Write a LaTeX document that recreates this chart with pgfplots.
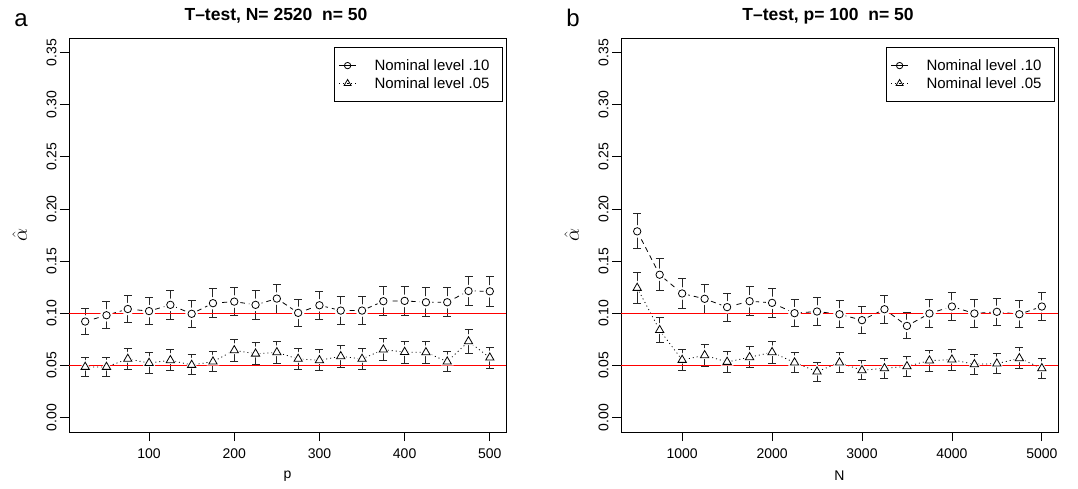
\documentclass[border=0pt]{standalone}
\usepackage{fontspec}
\setmainfont{Liberation Sans}
\usepackage{pgfplots}
\pgfplotsset{compat=1.18}
\usepackage{pgfplotstable}

\pgfplotstableread{
p c ce t te
25 0.0920 0.0127 0.0484 0.0094
50 0.0980 0.0130 0.0484 0.0094
75 0.1040 0.0134 0.0561 0.0101
100 0.1020 0.0133 0.0522 0.0098
125 0.1080 0.0136 0.0548 0.0100
150 0.0994 0.0131 0.0503 0.0096
175 0.1096 0.0137 0.0535 0.0099
200 0.1111 0.0138 0.0643 0.0108
225 0.1080 0.0136 0.0611 0.0105
250 0.1140 0.0139 0.0624 0.0106
275 0.1003 0.0132 0.0561 0.0101
300 0.1076 0.0136 0.0548 0.0100
325 0.1025 0.0133 0.0586 0.0103
350 0.1025 0.0133 0.0561 0.0101
375 0.1115 0.0138 0.0650 0.0108
400 0.1118 0.0138 0.0627 0.0106
425 0.1105 0.0137 0.0624 0.0106
450 0.1105 0.0137 0.0535 0.0099
475 0.1213 0.0143 0.0729 0.0114
500 0.1210 0.0143 0.0573 0.0102
}\dataA

\pgfplotstableread{
N c ce t te
500 0.1785 0.0168 0.1242 0.0145
750 0.1369 0.0151 0.0837 0.0121
1000 0.1189 0.0142 0.0551 0.0100
1250 0.1138 0.0139 0.0596 0.0104
1500 0.1058 0.0135 0.0532 0.0098
1750 0.1115 0.0138 0.0577 0.0102
2000 0.1099 0.0137 0.0625 0.0106
2250 0.1000 0.0131 0.0526 0.0098
2500 0.1016 0.0132 0.0439 0.0090
2750 0.0990 0.0131 0.0526 0.0098
3000 0.0933 0.0127 0.0452 0.0091
3250 0.1038 0.0134 0.0471 0.0093
3500 0.0878 0.0124 0.0490 0.0095
3750 0.0997 0.0131 0.0545 0.0100
4000 0.1064 0.0135 0.0554 0.0100
4250 0.0997 0.0131 0.0510 0.0096
4500 0.1013 0.0132 0.0516 0.0097
4750 0.0990 0.0131 0.0567 0.0102
5000 0.1064 0.0135 0.0471 0.0093
}\dataB

\pgfplotsset{
  rstyle/.style={
    width=437pt, height=394pt, scale only axis,
    axis line style={line width=0.9pt},
    tick align=outside, tick pos=left, major tick length=9pt,
    every tick/.style={black, line width=0.8pt},
    ymin=-0.014, ymax=0.364,
    ytick={0,0.05,0.1,0.15,0.2,0.25,0.3,0.35},
    ticklabel style={font=\fontsize{14}{16}\selectfont},
    yticklabel style={rotate=90, anchor=south, /pgf/number format/fixed, /pgf/number format/fixed zerofill, /pgf/number format/precision=2},
    xticklabel style={yshift=-4pt},
    /pgf/number format/assume math mode=true,
    /pgf/number format/1000 sep={},
    xlabel style={font=\fontsize{14}{16}\selectfont, at={(axis description cs:0.5,-0.112)}, anchor=center},
    ylabel style={font=\fontsize{22}{24}\selectfont, at={(axis description cs:-0.113,0.5)}, anchor=center},
    ylabel={$\hat{\alpha}$},
    title style={at={(axis description cs:0.5,1)}, anchor=base, yshift=12pt, xshift=-11.5pt, font=\bfseries\fontsize{17.5}{20}\selectfont},
    legend style={at={(0.993,0.977)}, anchor=north east, draw=black, line width=0.7pt,
      inner xsep=4pt, inner ysep=10pt, row sep=1.5pt,
      font=\fontsize{15}{17}\selectfont, nodes={inner sep=2pt},
      /tikz/every odd column/.append style={column sep=16pt}},
    legend cell align=left,
  },
  cline/.style={black, line width=0.8pt, dash pattern=on 5pt off 4pt, forget plot},
  tline/.style={black, line width=0.8pt, dash pattern=on 1pt off 3pt, forget plot},
  ebar/.style={draw=none, mark=none, forget plot, error bars/.cd, y dir=both, y explicit,
    error bar style={draw=black!85, line width=1pt, solid},
    error mark options={rotate=90, mark size=4pt, draw=black!85, line width=1pt, solid}},
  chalo/.style={only marks, mark=*, mark size=6pt, white, forget plot},
  thalo/.style={only marks, mark=triangle*, mark size=7pt, white, forget plot},
  cmark/.style={only marks, mark=o, mark size=3.7pt, black, line width=0.8pt, forget plot},
  tmark/.style={only marks, mark=triangle, mark size=4.8pt, black, line width=0.8pt, forget plot},
  refl/.style={red, line width=0.8pt, forget plot},
}

\begin{document}
\begin{tikzpicture}
\useasboundingbox (0,0) rectangle (1078pt,-488pt);

\begin{axis}[rstyle, at={(69pt,-38pt)}, anchor=north west,
  xmin=6, xmax=519, xtick={100,200,300,400,500},
  xlabel={p}, title={T–test, N= 2520~ n= 50}]
\addplot[cline] table[x=p,y=c]{\dataA};
\addplot[tline] table[x=p,y=t]{\dataA};
\addplot[ebar] table[x=p,y=c,y error=ce]{\dataA};
\addplot[ebar] table[x=p,y=t,y error=te]{\dataA};
\addplot[chalo] table[x=p,y=c]{\dataA};
\addplot[thalo] table[x=p,y=t]{\dataA};
\addplot[refl] coordinates {(6,0.1) (519,0.1)};
\addplot[refl] coordinates {(6,0.05) (519,0.05)};
\addplot[cmark] table[x=p,y=c]{\dataA};
\addplot[tmark] table[x=p,y=t]{\dataA};
\addlegendimage{black, line width=0.8pt, solid, mark=o, mark size=3.2pt, mark options={solid}}
\addlegendentry{Nominal level .10\hspace*{7pt}}
\addlegendimage{black, line width=0.8pt, dash pattern=on 1pt off 3pt, mark=triangle, mark size=4pt, mark options={solid}}
\addlegendentry{Nominal level .05\hspace*{7pt}}
\end{axis}

\begin{axis}[rstyle, at={(621pt,-38pt)}, anchor=north west,
  xmin=320, xmax=5180, xtick={1000,2000,3000,4000,5000},
  xlabel={N}, title={T–test, p= 100~ n= 50}]
\addplot[cline] table[x=N,y=c]{\dataB};
\addplot[tline] table[x=N,y=t]{\dataB};
\addplot[ebar] table[x=N,y=c,y error=ce]{\dataB};
\addplot[ebar] table[x=N,y=t,y error=te]{\dataB};
\addplot[chalo] table[x=N,y=c]{\dataB};
\addplot[thalo] table[x=N,y=t]{\dataB};
\addplot[refl] coordinates {(320,0.1) (5180,0.1)};
\addplot[refl] coordinates {(320,0.05) (5180,0.05)};
\addplot[cmark] table[x=N,y=c]{\dataB};
\addplot[tmark] table[x=N,y=t]{\dataB};
\addlegendimage{black, line width=0.8pt, solid, mark=o, mark size=3.2pt, mark options={solid}}
\addlegendentry{Nominal level .10\hspace*{7pt}}
\addlegendimage{black, line width=0.8pt, dash pattern=on 1pt off 3pt, mark=triangle, mark size=4pt, mark options={solid}}
\addlegendentry{Nominal level .05\hspace*{7pt}}
\end{axis}

\node[anchor=base, font=\fontsize{24}{28}\selectfont] at (21pt,-26pt) {a};
\node[anchor=base, font=\fontsize{24}{28}\selectfont] at (573pt,-26pt) {b};
\end{tikzpicture}
\end{document}
